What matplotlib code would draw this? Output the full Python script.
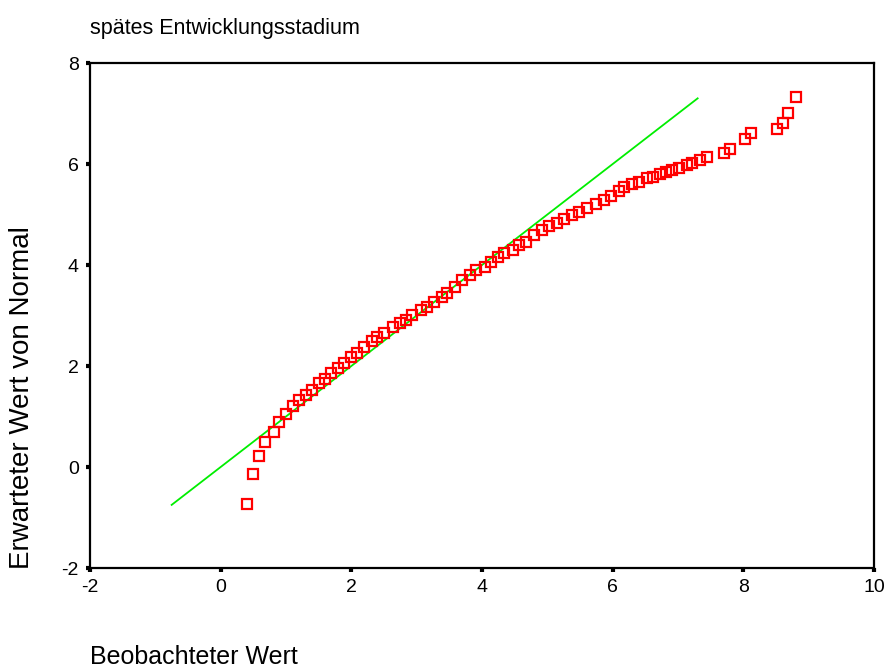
import numpy as np
import matplotlib
matplotlib.use('Agg')
import matplotlib.pyplot as plt

plt.rcParams['font.family'] = ['Liberation Sans', 'DejaVu Sans']
plt.rcParams['axes.unicode_minus'] = False

#%% data
beobachtet = [0.41, 0.50, 0.59, 0.68, 0.81, 0.90, 1.00, 1.11, 1.20, 1.30,
              1.40, 1.50, 1.59, 1.69, 1.79, 1.89, 2.00, 2.09, 2.20, 2.31,
              2.40, 2.50, 2.63, 2.74, 2.84, 2.93, 3.07, 3.16, 3.27, 3.38,
              3.47, 3.58, 3.70, 3.81, 3.91, 4.04, 4.14, 4.24, 4.34, 4.47,
              4.57, 4.68, 4.80, 4.92, 5.03, 5.15, 5.26, 5.38, 5.49, 5.61,
              5.74, 5.86, 5.98, 6.09, 6.18, 6.29, 6.41, 6.52, 6.61, 6.72,
              6.82, 6.91, 7.02, 7.13, 7.21, 7.33, 7.45, 7.71, 7.80, 8.02,
              8.11, 8.51, 8.60, 8.69, 8.81]
erwartet = [-0.73, -0.14, 0.22, 0.50, 0.69, 0.89, 1.05, 1.21, 1.33, 1.43,
            1.53, 1.66, 1.74, 1.86, 1.96, 2.06, 2.18, 2.26, 2.38, 2.50,
            2.57, 2.65, 2.77, 2.85, 2.91, 3.01, 3.11, 3.17, 3.27, 3.37,
            3.45, 3.56, 3.70, 3.80, 3.90, 3.96, 4.06, 4.16, 4.24, 4.30,
            4.40, 4.46, 4.59, 4.69, 4.77, 4.83, 4.91, 4.99, 5.05, 5.13,
            5.21, 5.29, 5.37, 5.47, 5.55, 5.60, 5.64, 5.72, 5.74, 5.80,
            5.84, 5.88, 5.92, 5.98, 6.02, 6.08, 6.14, 6.22, 6.30, 6.50,
            6.61, 6.69, 6.81, 7.01, 7.33]
linie = [-0.75, 7.3]

#%% plot
fig = plt.figure(figsize=(8.9, 6.71), dpi=100)
ax = fig.add_axes([0.1011, 0.1535, 0.881, 0.7526])

ax.plot(linie, linie, '-', color='#00ee00', lw=1.3)
ax.plot(beobachtet, erwartet, 's', ms=6.5, mfc='none', mec='red', mew=1.6,
        linestyle='none')

ax.set_xlim(-2, 10)
ax.set_ylim(-2, 8)
ax.set_xticks(np.arange(-2, 11, 2))
ax.set_yticks(np.arange(-2, 9, 2))

for s in ax.spines.values():
    s.set_linewidth(1.6)
    s.set_color('black')

ax.tick_params(direction='out', length=3, width=3, labelsize=14, pad=5)

fig.text(0.1011, 0.958, 'spätes Entwicklungsstadium', fontsize=15.5, va='center')
fig.text(0.1011, 0.003, 'Beobachteter Wert', fontsize=18, va='bottom')
fig.text(0.025, 0.407, 'Erwarteter Wert von Normal', fontsize=20,
         rotation=90, ha='center', va='center')

fig.savefig('out.png', dpi=100)
